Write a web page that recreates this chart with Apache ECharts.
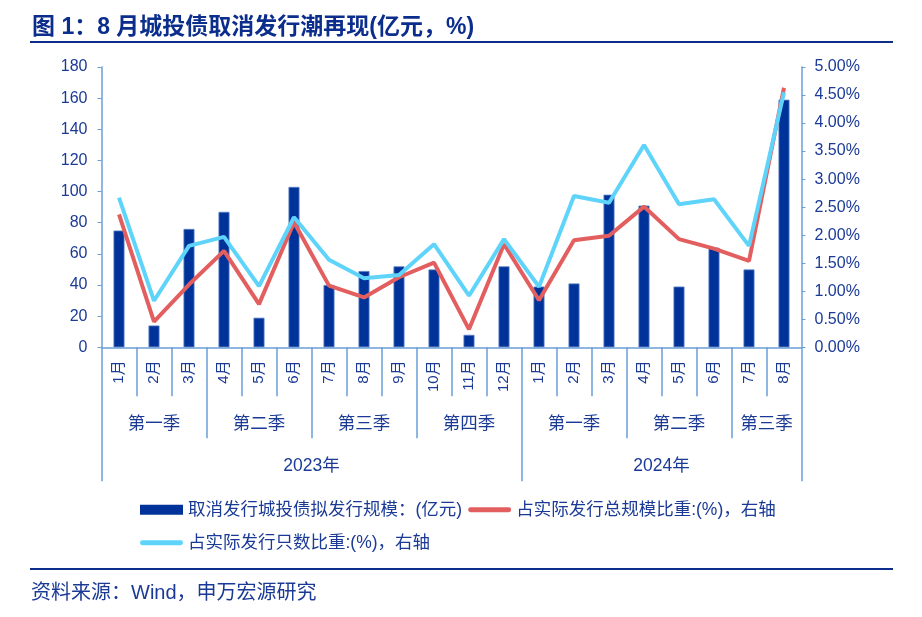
<!DOCTYPE html>
<html>
<head>
<meta charset="utf-8">
<script src="https://cdn.jsdelivr.net/npm/echarts@6/dist/echarts.min.js"></script>
<style>
html,body{margin:0;padding:0;background:#fff;}
#c{width:922px;height:617px;}
</style>
</head>
<body>
<div id="c"></div>
<script>
// ---- data ----
const months = ['1月','2月','3月','4月','5月','6月','7月','8月','9月','10月','11月','12月','1月','2月','3月','4月','5月','6月','7月','8月'];
const quarterLabels = ['第一季','第二季','第三季','第四季','第一季','第二季','第三季'];
const quarterSizes = [3,3,3,3,3,3,2];
const yearLabels = ['2023年','2024年'];
const yearSizes = [12,8];
const leftTicks = {min:0, max:180, interval:20};
const rightTicks = {min:0, max:5, interval:0.5};
const barName = '取消发行城投债拟发行规模：(亿元)';
const redName = '占实际发行总规模比重:(%)，右轴';
const cyanName = '占实际发行只数比重:(%)，右轴';
const cancelledScale = [75, 14, 76, 87, 19, 103, 40, 49, 52, 50, 8, 52, 39, 41, 98, 91, 39, 64, 50, 159];
const shareByAmount = [2.37, 0.46, 1.12, 1.72, 0.77, 2.23, 1.10, 0.89, 1.25, 1.51, 0.32, 1.84, 0.84, 1.91, 1.99, 2.51, 1.93, 1.76, 1.54, 4.63];
const shareByCount = [2.67, 0.83, 1.81, 1.97, 1.09, 2.32, 1.56, 1.23, 1.29, 1.84, 0.92, 1.93, 1.08, 2.70, 2.58, 3.61, 2.55, 2.64, 1.81, 4.55];

// ---- build group axes (half-month resolution, boundaryGap false) ----
function buildGroup(labels, sizes){
  const n = months.length * 2 + 1;
  const data = [];
  for (let i = 0; i < n; i++) data.push({value: 'p' + i, label: ''});
  const ticks = [0];
  let s = 0;
  labels.forEach((lab, k) => {
    data[2*s + sizes[k]].label = lab;
    s += sizes[k];
    ticks.push(2*s);
  });
  return {data: data.map(d => d.value), names: data.map(d => d.label), ticks};
}
const qg = buildGroup(quarterLabels, quarterSizes);
const yg = buildGroup(yearLabels, yearSizes);

const axisColor = '#6a9fd8';
const textColor = '#1a3a96';
const fam = '"Liberation Sans", "Noto Sans CJK SC", sans-serif';
const lineIcon = 'path://M2.4 0 H40.6 A2.4 2.4 0 0 1 40.6 4.8 H2.4 A2.4 2.4 0 0 1 2.4 0 Z';

function groupAxis(g, offset, len){
  return {type:'category', data:g.data, position:'bottom', offset:offset, boundaryGap:false,
    axisLine:{show:false},
    axisTick:{show:true, inside:false, interval:(i)=>g.ticks.indexOf(i) >= 0, length:len,
              lineStyle:{color:axisColor, width:1.5}},
    axisLabel:{interval:0, margin:19, fontSize:17.5, color:textColor, fontFamily:fam,
               formatter:(v, i)=>g.names[i]}};
}

const chart = echarts.init(document.getElementById('c'), null, {renderer:'canvas'});
chart.setOption({
  animation:false,
  textStyle:{fontFamily:fam},
  title:{
    text:'图 1：8 月城投债取消发行潮再现(亿元，%)',
    left:32, top:15, padding:0,
    textStyle:{fontSize:23, fontWeight:'bold', color:'#0b2d8c', fontFamily:fam, lineHeight:26}
  },
  graphic:[
    {type:'rect', shape:{x:30, y:41, width:863, height:2}, style:{fill:'#0b2d8c'}, silent:true},
    {type:'rect', shape:{x:30, y:568, width:863, height:2}, style:{fill:'#0b2d8c'}, silent:true},
    {type:'text', left:31, top:583, style:{text:'资料来源：Wind，申万宏源研究', fontSize:20, fill:textColor, fontFamily:fam}}
  ],
  legend:[
    {data:[
       {name:barName, icon:'rect', itemStyle:{borderWidth:0}},
       {name:redName, icon:lineIcon}
     ],
     left:140, top:501, padding:0, itemWidth:43, itemHeight:10, itemGap:6,
     textStyle:{fontSize:17.5, color:textColor, fontFamily:fam}},
    {data:[{name:cyanName, icon:lineIcon}],
     left:140, top:534, padding:0, itemWidth:43, itemHeight:10, itemGap:6,
     textStyle:{fontSize:17.5, color:textColor, fontFamily:fam}}
  ],
  grid:{left:101.5, right:120.5, top:67, bottom:269.7, containLabel:false},
  xAxis:[
    {type:'category', data:months, position:'bottom', boundaryGap:true,
     axisLine:{show:true, lineStyle:{color:axisColor, width:1.5}},
     axisTick:{show:true, interval:0, length:49, lineStyle:{color:axisColor, width:1.5}},
     axisLabel:{interval:0, rotate:90, margin:13, fontSize:15, color:textColor, fontFamily:fam}},
    {type:'category', data:months, position:'top', show:false},
    groupAxis(qg, 49, 42),
    groupAxis(yg, 91, 43)
  ],
  yAxis:[
    {type:'value', min:leftTicks.min, max:leftTicks.max, interval:leftTicks.interval, position:'left',
     axisLine:{show:true, lineStyle:{color:axisColor, width:1.5}},
     axisTick:{show:true, length:4, lineStyle:{color:axisColor}},
     splitLine:{show:false},
     axisLabel:{margin:14, fontSize:16, color:textColor, fontFamily:fam}},
    {type:'value', min:rightTicks.min, max:rightTicks.max, interval:rightTicks.interval, position:'right',
     axisLine:{show:true, lineStyle:{color:axisColor, width:1.5}},
     axisTick:{show:true, length:4, lineStyle:{color:axisColor}},
     splitLine:{show:false},
     axisLabel:{margin:13, fontSize:16, color:textColor, fontFamily:fam, formatter:(v)=>v.toFixed(2)+'%'}}
  ],
  series:[
    {name:barName, type:'bar', data:cancelledScale, xAxisIndex:0, yAxisIndex:0, barWidth:11,
     itemStyle:{color:'#003399', borderColor:'#5a83c8', borderWidth:0.8}, z:1},
    {name:redName, type:'line', data:shareByAmount, xAxisIndex:0, yAxisIndex:1, symbol:'none',
     lineStyle:{color:'#e35f5f', width:4}, itemStyle:{color:'#e35f5f'}, z:3},
    {name:cyanName, type:'line', data:shareByCount, xAxisIndex:0, yAxisIndex:1, symbol:'none',
     lineStyle:{color:'#5fd4fb', width:4}, itemStyle:{color:'#5fd4fb'}, z:4}
  ]
});
</script>
</body>
</html>
